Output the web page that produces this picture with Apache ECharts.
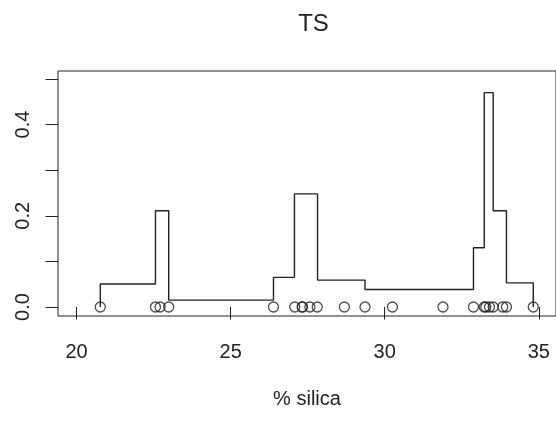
<!DOCTYPE html>
<html>
<head>
<meta charset="utf-8">
<script src="https://cdn.jsdelivr.net/npm/echarts@6/dist/echarts.min.js"></script>
<style>html,body{margin:0;padding:0;background:#fff;}#c{width:556px;height:422px;}</style>
</head>
<body>
<div id="c"></div>
<script>
// Data
const silica = [20.77, 22.56, 22.71, 22.99, 26.39, 27.08, 27.32, 27.33, 27.57, 27.81, 28.69, 29.36, 30.25, 31.89, 32.88, 33.23, 33.28, 33.40, 33.52, 33.83, 33.95, 34.82];
const breaks = [20.77, 22.56, 22.99, 26.39, 27.07, 27.82, 29.36, 32.88, 33.23, 33.52, 33.95, 34.82];
const heights = [0.0505, 0.211, 0.0152, 0.065, 0.248, 0.059, 0.0385, 0.130, 0.470, 0.211, 0.053];
const xTicks = [20, 25, 30, 35];
const yTicks = [0, 0.1, 0.2, 0.3, 0.4, 0.5];
const yLabels = [0, 0.2, 0.4];

const stepData = [[breaks[0], 0]];
for (let i = 0; i < heights.length; i++) {
  stepData.push([breaks[i], heights[i]]);
  stepData.push([breaks[i + 1], heights[i]]);
}
stepData.push([breaks[breaks.length - 1], 0]);

const font = 'Liberation Sans, Arial, Helvetica, sans-serif';
const ink = '#222';
const chart = echarts.init(document.getElementById('c'), null, {renderer: 'canvas'});
chart.setOption({
  animation: false,
  backgroundColor: '#fff',
  title: {
    text: 'TS', left: 308.5, top: 7, textAlign: 'center',
    textStyle: {fontFamily: font, fontSize: 24, fontWeight: 'normal', color: ink}
  },
  grid: {left: 58, top: 71, width: 501, height: 245, show: true, borderColor: ink, borderWidth: 1, backgroundColor: 'transparent'},
  xAxis: {
    type: 'value', min: 19.397, max: 35.558,
    name: '% silica', nameLocation: 'middle', nameGap: 73,
    nameTextStyle: {fontFamily: font, fontSize: 20, color: ink},
    axisLine: {show: false},
    splitLine: {show: false},
    axisTick: {show: true, length: 12.5, inside: false, customValues: xTicks, lineStyle: {color: ink, width: 1}},
    axisLabel: {customValues: xTicks, margin: 26, fontFamily: font, fontSize: 20, color: ink}
  },
  yAxis: {
    type: 'value', min: -0.0197, max: 0.5175,
    axisLine: {show: false},
    splitLine: {show: false},
    axisTick: {show: true, length: 12.5, inside: false, customValues: yTicks, lineStyle: {color: ink, width: 1}},
    axisLabel: {customValues: yLabels, rotate: 90, margin: 25, fontFamily: font, fontSize: 20, color: ink,
      formatter: v => v.toFixed(1)}
  },
  series: [
    {type: 'line', data: stepData, symbol: 'none', lineStyle: {color: ink, width: 1.4}, z: 2},
    {type: 'scatter', data: silica.map(v => [v, 0]), symbol: 'circle', symbolSize: 10,
      itemStyle: {color: 'rgba(0,0,0,0)', borderColor: ink, borderWidth: 1.3}, z: 3}
  ]
});
</script>
</body>
</html>
